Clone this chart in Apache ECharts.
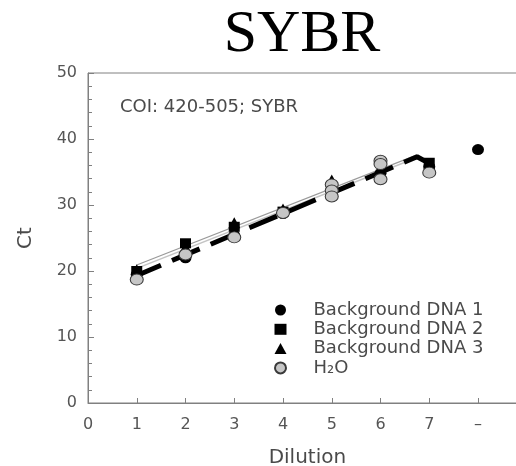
<!DOCTYPE html>
<html><head><meta charset="utf-8">
<script src="https://cdn.jsdelivr.net/npm/echarts@6/dist/echarts.min.js"></script>
<style>html,body{margin:0;padding:0;background:#fff}#c{width:516px;height:466px}</style>
</head><body><div id="c"></div>
<script>
// ---- data ----
const xTickLabels = ['0','1','2','3','4','5','6','7','\u2013',''];
const dna1X = [1, 2, 3, 4, 5, 6, 7, 8];
const dna1Y = [19.5, 22.0, 25.4, 28.7, 31.6, 34.8, 35.8, 38.4];
const dna2X = [1, 2, 3, 4, 5, 6, 7];
const dna2Y = [20.0, 24.2, 26.7, 29.0, 32.0, 34.3, 36.4];
const dna3X = [1, 2, 3, 4, 5, 6, 7];
const dna3Y = [20.2, 23.6, 27.3, 29.4, 33.8, 35.0, 36.2];
const h2oX = [1, 2, 3, 4, 5, 5, 5, 6, 6, 6, 7];
const h2oY = [18.7, 22.5, 25.1, 28.8, 33.1, 32.2, 31.3, 36.7, 36.2, 33.9, 34.9];
const fitDashX = [0.93, 6.75, 7];
const fitDashY = [19.1, 37.3, 36.3];
const fitThinAX = [1, 6.75];
const fitThinAY = [20.9, 37.6];
const fitThinBX = [1, 6.75];
const fitThinBY = [20.4, 37.2];
const seriesNames = ['Background DNA 1', 'Background DNA 2', 'Background DNA 3', 'H\u2082O'];

const pairs = (xs, ys) => xs.map((x, i) => [x, ys[i]]);
const FONT = 'DejaVu Sans';
const AX = '#808080';
const TXT = '#4a4a4a';

const chart = echarts.init(document.getElementById('c'), null, {renderer: 'canvas'});
chart.setOption({
  animation: false,
  backgroundColor: '#fff',
  grid: {left: 88, top: 73, bottom: 63, right: -10.75, show: true, borderColor: AX, borderWidth: 1,
    containLabel: false, outerBoundsMode: 'none'},
  graphic: [
    {type: 'text', x: 302, y: 35, style: {text: 'SYBR', font: '60px "Liberation Serif"', fill: '#000', textAlign: 'center', textVerticalAlign: 'middle'}},
    {type: 'text', x: 120, y: 107, style: {text: 'COI: 420-505; SYBR', font: '18px "' + FONT + '"', fill: TXT, textAlign: 'left', textVerticalAlign: 'middle'}}
  ],
  xAxis: {
    type: 'value', min: 0, max: 9, interval: 1,
    name: 'Dilution', nameLocation: 'middle', nameGap: 45,
    nameTextStyle: {fontFamily: FONT, fontSize: 20, color: TXT},
    axisLine: {show: true, lineStyle: {color: AX, width: 1}},
    axisTick: {show: true, inside: true, length: 5, lineStyle: {color: AX}},
    axisLabel: {fontFamily: FONT, fontSize: 16, color: '#555', margin: 14,
      formatter: v => xTickLabels[Math.round(v)] || ''},
    splitLine: {show: false}
  },
  yAxis: {
    type: 'value', min: 0, max: 50, interval: 10,
    name: 'Ct', nameLocation: 'middle', nameGap: 52,
    nameTextStyle: {fontFamily: FONT, fontSize: 20, color: TXT},
    axisLine: {show: true, lineStyle: {color: AX, width: 1}},
    axisTick: {show: true, inside: true, length: 6, lineStyle: {color: AX}},
    minorTick: {show: true, splitNumber: 5, length: 4, lineStyle: {color: AX}},
    axisLabel: {fontFamily: FONT, fontSize: 16, color: '#555', margin: 11},
    splitLine: {show: false}
  },
  legend: {
    orient: 'vertical', left: 269, top: 296, padding: 5, itemWidth: 12, itemHeight: 11, itemGap: 1.3,
    selectedMode: false, data: seriesNames,
    textStyle: {fontFamily: FONT, fontSize: 18, color: TXT, padding: [0, 0, 0, 22]}
  },
  series: [
    {type: 'line', data: pairs(fitThinAX, fitThinAY), symbol: 'none', z: 2, silent: true,
      lineStyle: {color: '#9a9a9a', width: 1.2}},
    {type: 'line', data: pairs(fitThinBX, fitThinBY), symbol: 'none', z: 2, silent: true,
      lineStyle: {color: '#c4c4c4', width: 1.5}},
    {type: 'line', data: pairs(fitDashX, fitDashY), symbol: 'none', z: 3, silent: true,
      lineStyle: {color: '#000', width: 5, type: [30, 12], cap: 'butt'}},
    {name: seriesNames[0], type: 'scatter', z: 4, data: pairs(dna1X, dna1Y), symbol: 'circle', symbolSize: [12, 11],
      itemStyle: {color: '#000', opacity: 1}},
    {name: seriesNames[1], type: 'scatter', z: 5, data: pairs(dna2X, dna2Y), symbol: 'rect', symbolSize: [11, 10],
      itemStyle: {color: '#000', opacity: 1}},
    {name: seriesNames[2], type: 'scatter', z: 6, data: pairs(dna3X, dna3Y), symbol: 'triangle', symbolSize: [12, 11],
      itemStyle: {color: '#000', opacity: 1}},
    {name: seriesNames[3], type: 'scatter', z: 7, data: pairs(h2oX, h2oY), symbol: 'circle', symbolSize: [13, 11],
      itemStyle: {color: '#c6c6c6', borderColor: '#3a3a3a', borderWidth: 1, opacity: 1}}
  ]
});
</script></body></html>
